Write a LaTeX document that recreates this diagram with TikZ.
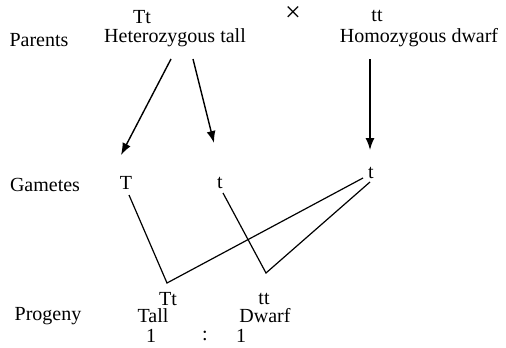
\documentclass[tikz,border=0pt]{standalone}
\usepackage{fontspec}
\setmainfont{Liberation Serif}
\usetikzlibrary{arrows.meta}
\begin{document}
\begin{tikzpicture}[x=1pt,y=-1pt,
  txt/.style={inner sep=1pt,font=\fontsize{20}{22}\selectfont},
  arr/.style={line width=1.4pt,-{Latex[length=12pt,width=9pt]}},
  ln/.style={line width=1.2pt}]
\useasboundingbox (0,0) rectangle (506,348);
% parents row
\node[txt] (pTt) at (142,17) {Tt};
\node[inner sep=0pt,font=\fontsize{28}{30}\selectfont] (cross) at (293,14) {×};
\node[txt] (ptt) at (377,16) {tt};
\node[txt] (parents) at (39,40) {Parents};
\node[txt] (het) at (175,38) {Heterozygous tall};
\node[txt] (hom) at (419,38) {Homozygous dwarf};
% gametes row
\node[txt] (gametes) at (45,185) {Gametes};
\node[txt] (gT) at (126,183) {T};
\node[txt] (gt1) at (220,183) {t};
\node[txt] (gt2) at (371,173) {t};
% arrow ends
\coordinate (e1) at (121,155);
\coordinate (e2) at (214,143);
\coordinate (e3) at (370,150);
\coordinate (s1) at (171,59);
\coordinate (s2) at (193,59);
\coordinate (s3) at (370,59);
\draw[arr] (s1) -- (e1);
\draw[arr] (s2) -- (e2);
\draw[arr] (s3) -- (e3);
% crossing lines
\coordinate (v1) at (167,283);
\coordinate (v2) at (266,273);
\coordinate (r1) at (363,178);
\coordinate (r2) at (370,182);
\coordinate (b1) at (129,195);
\coordinate (b2) at (223,193);
\draw[ln] (b1) -- (v1) -- (r1);
\draw[ln] (b2) -- (v2) -- (r2);
% progeny row
\node[txt] (oTt) at (168,299) {Tt};
\node[txt] (ott) at (264,299) {tt};
\node[txt] (progeny) at (48,316) {Progeny};
\node[txt] (tall) at (153,316) {Tall};
\node[txt] (dwarf) at (265,316) {Dwarf};
\node[txt] (one1) at (151,336) {1};
\node[txt] (colon) at (205,336) {:};
\node[txt] (one2) at (241,336) {1};
\end{tikzpicture}
\end{document}
